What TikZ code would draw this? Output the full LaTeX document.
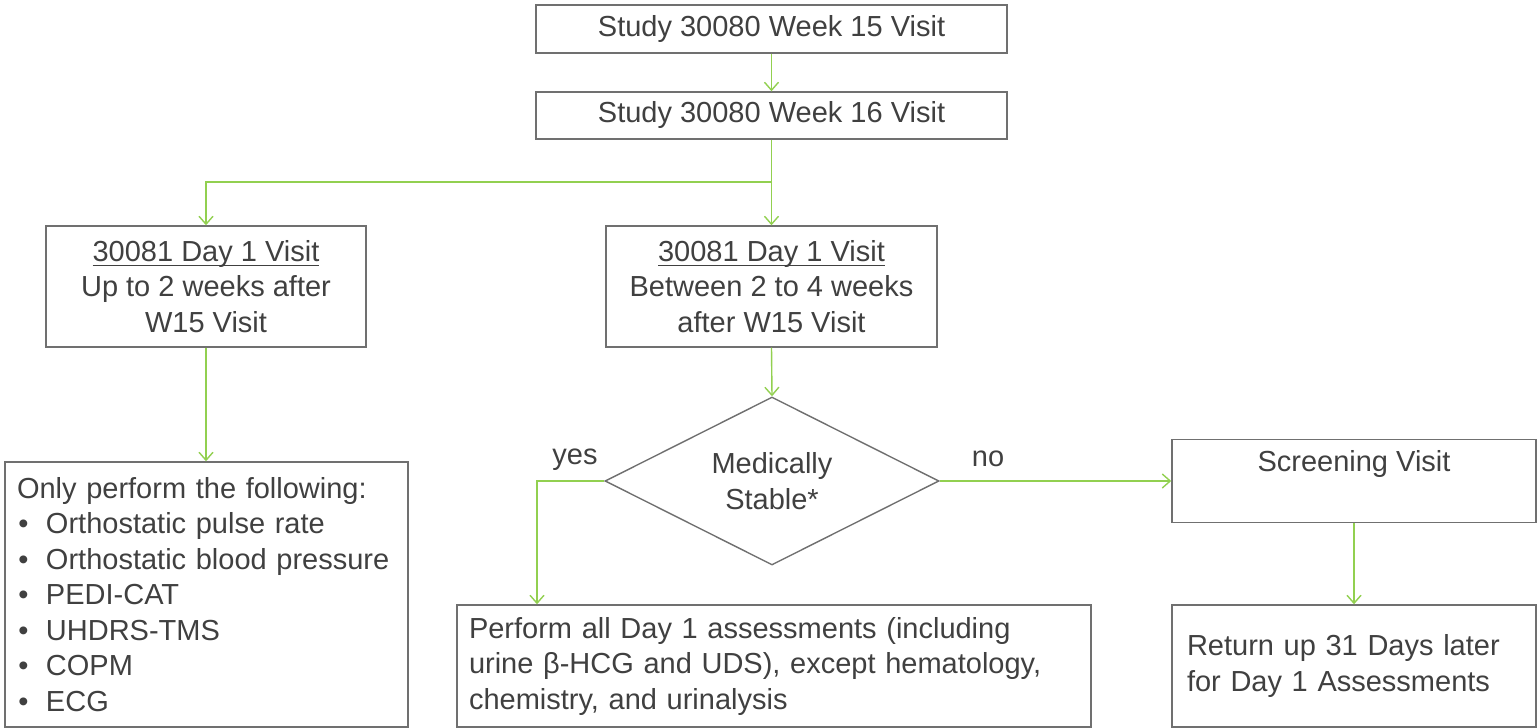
\documentclass[tikz,border=0pt]{standalone}
\usepackage{fontspec}
\setmainfont{Liberation Sans}
\usetikzlibrary{arrows.meta,shapes.geometric}
\definecolor{arrowgreen}{HTML}{92D050}
\definecolor{boxgray}{HTML}{707070}
\definecolor{txtgray}{HTML}{404040}
\newcommand{\myul}[1]{\setbox0\hbox{#1}\rlap{\rule[-5pt]{\wd0}{1.3pt}}\box0}
\newcommand{\mybul}{\makebox[13pt][c]{•}\hspace{16pt}}
\begin{document}
\begin{tikzpicture}[x=1pt,y=-1pt,
  font=\fontsize{29}{35.5}\selectfont, text=txtgray,
  box/.style={draw=boxgray, line width=1.4pt, rectangle, inner sep=0pt, align=center},
  lbox/.style={draw=boxgray, line width=1.4pt, rectangle, inner xsep=12pt, inner ysep=0pt, align=left},
  conn/.style={draw=arrowgreen, line width=1.4pt, -{Straight Barb[length=8pt,width=14pt,line width=1.4pt]}},
  lbl/.style={inner sep=0pt, text=txtgray}]
\useasboundingbox (0,0) rectangle (1537,728);
% boxes
\node[box, minimum width=471pt, minimum height=48pt] (w15) at (771.5,29) {Study 30080 Week 15 Visit};
\node[box, minimum width=471pt, minimum height=47pt] (w16) at (771.5,115.5) {Study 30080 Week 16 Visit};
\node[box, minimum width=320pt, minimum height=121pt] (d1a) at (206,286.5) {\myul{30081 Day 1 Visit}\\Up to 2 weeks after\\W15 Visit};
\node[box, minimum width=331pt, minimum height=121pt] (d1b) at (771.5,286.5) {\myul{30081 Day 1 Visit}\\Between 2 to 4 weeks\\after W15 Visit};
\node[lbox, text width=379pt, minimum height=265pt] (only) at (206.5,594.5) {Only perform the following:\\
\mybul Orthostatic pulse rate\\
\mybul Orthostatic blood pressure\\
\mybul PEDI-CAT\\
\mybul UHDRS-TMS\\
\mybul COPM\\
\mybul ECG};
\node[draw=boxgray, line width=1.4pt, diamond, aspect=2, minimum width=334pt, minimum height=168pt, inner sep=0pt, align=center] (med) at (772,481) {Medically\\Stable*};
\node[lbox, text width=610pt, minimum height=122pt] (perf) at (774,666) {Perform all Day 1 assessments (including\\urine β-HCG and UDS), except hematology,\\chemistry, and urinalysis};
\node[box, minimum width=364pt, minimum height=83pt] (scr) at (1354,481) {};
\node[lbl, anchor=center] (scrt) at (1354,464) {Screening Visit};
\node[lbox, inner xsep=15pt, text width=334pt, minimum height=122pt] (ret) at (1354,666) {Return up 31 Days later\\for Day 1 Assessments};
% connectors
\coordinate (split) at (772,182);
\coordinate (yesc) at (537,481);
\draw[conn] (w15.south) -- (w16.north);
\draw[conn] (w16.south) -- (d1b.north);
\draw[conn] (split) -| (d1a.north);
\draw[conn] (d1a.south) -- (only.north -| d1a.south);
\draw[conn] (d1b.south) -- (med.north);
\draw[conn] (med.west) -- (yesc) -- (yesc |- perf.north);
\draw[conn] (med.east) -- (scr.west);
\draw[conn] (scr.south) -- (ret.north);
% labels
\node[lbl] (yes) at (575,460) {yes};
\node[lbl] (no) at (988,459) {no};
\end{tikzpicture}
\end{document}
